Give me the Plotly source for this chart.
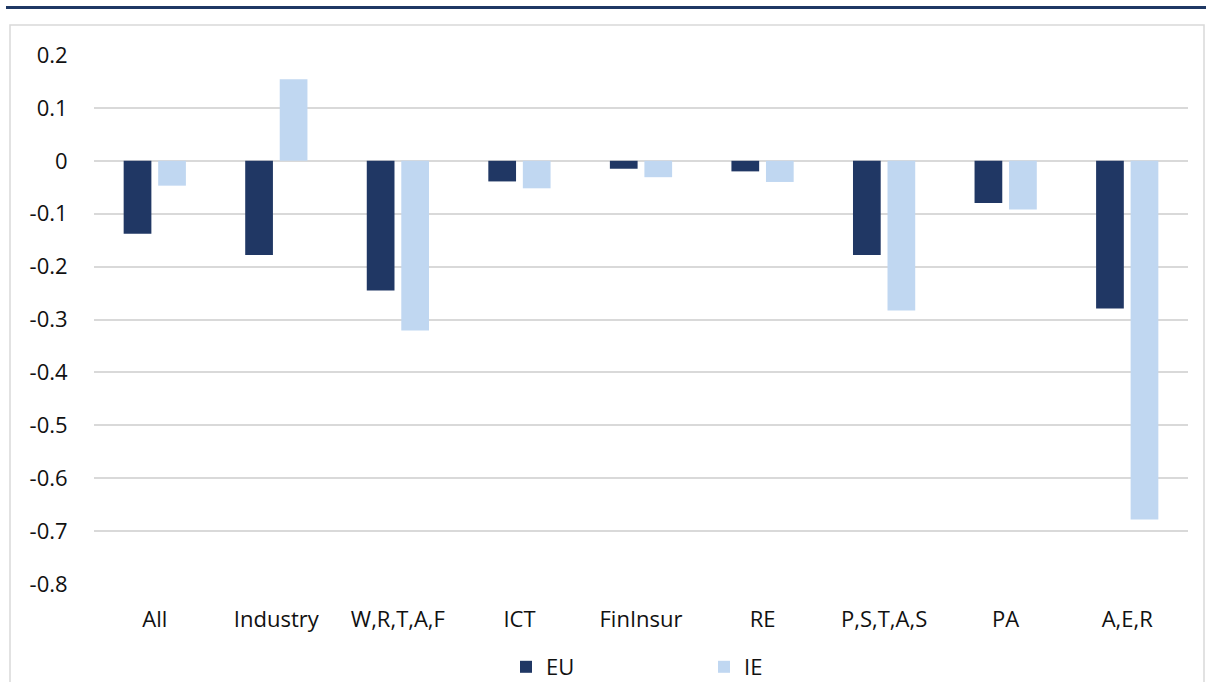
import plotly.graph_objects as go

categories = ["All", "Industry", "W,R,T,A,F", "ICT", "FinInsur", "RE", "P,S,T,A,S", "PA", "A,E,R"]
eu_values = [-0.138, -0.178, -0.245, -0.039, -0.015, -0.020, -0.178, -0.080, -0.279]
ie_values = [-0.047, 0.154, -0.321, -0.052, -0.031, -0.040, -0.283, -0.092, -0.678]
y_ticks = [0.2, 0.1, 0, -0.1, -0.2, -0.3, -0.4, -0.5, -0.6, -0.7, -0.8]
y_tick_labels = ["0.2", "0.1", "0", "-0.1", "-0.2", "-0.3", "-0.4", "-0.5", "-0.6", "-0.7", "-0.8"]

EU_COLOR = "#203764"
IE_COLOR = "#C0D7F1"
FONT = "Open Sans"
TXT = "#111111"

W, H = 1206, 682
L, R, T, B = 94, 18, 55, 98
pw, ph = W - L - R, H - T - B

def px(x):
    return (x - L) / pw

def py(y):
    return (H - B - y) / ph

fig = go.Figure()
fig.add_trace(go.Bar(name="EU", x=categories, y=eu_values, marker=dict(color=EU_COLOR, line=dict(width=0))))
fig.add_trace(go.Bar(name="IE", x=categories, y=ie_values, marker=dict(color=IE_COLOR, line=dict(width=0))))

fig.update_layout(
    width=W, height=H,
    margin=dict(l=L, r=R, t=T, b=B, autoexpand=False),
    paper_bgcolor="white", plot_bgcolor="white",
    barmode="group", bargap=0.432, bargroupgap=0.197,
    font=dict(family=FONT, size=22, color=TXT),
    showlegend=True,
    legend=dict(
        orientation="h", x=px(506), xanchor="left", y=py(667), yanchor="middle",
        entrywidth=153, entrywidthmode="pixels",
        font=dict(family=FONT, size=22, color=TXT),
        itemclick=False, bgcolor="rgba(0,0,0,0)",
    ),
    xaxis=dict(
        showgrid=False, zeroline=False, showline=False,
        ticks="outside", ticklen=16, tickcolor="rgba(0,0,0,0)",
        tickfont=dict(family=FONT, size=22, color=TXT),
    ),
    yaxis=dict(
        range=[-0.8, 0.2], tickvals=y_ticks, ticktext=y_tick_labels,
        showgrid=True, gridcolor="#D9D9D9", gridwidth=1.5,
        zeroline=True, zerolinecolor="#D9D9D9", zerolinewidth=1.5,
        showline=False,
        ticks="outside", ticklen=21, tickcolor="rgba(0,0,0,0)",
        tickfont=dict(family=FONT, size=22, color=TXT),
    ),
    shapes=[
        dict(type="line", xref="paper", yref="paper", x0=px(6), x1=px(1206), y0=py(7.5), y1=py(7.5),
             line=dict(color="#1F3864", width=3)),
        dict(type="rect", xref="paper", yref="paper", x0=px(10), x1=px(1204), y0=py(700), y1=py(25),
             line=dict(color="#D9D9D9", width=1.5), fillcolor="rgba(0,0,0,0)", layer="below"),
    ],
)

fig.write_html("out.html", config={"displayModeBar": False},
               post_script="document.body.style.margin='0';")
